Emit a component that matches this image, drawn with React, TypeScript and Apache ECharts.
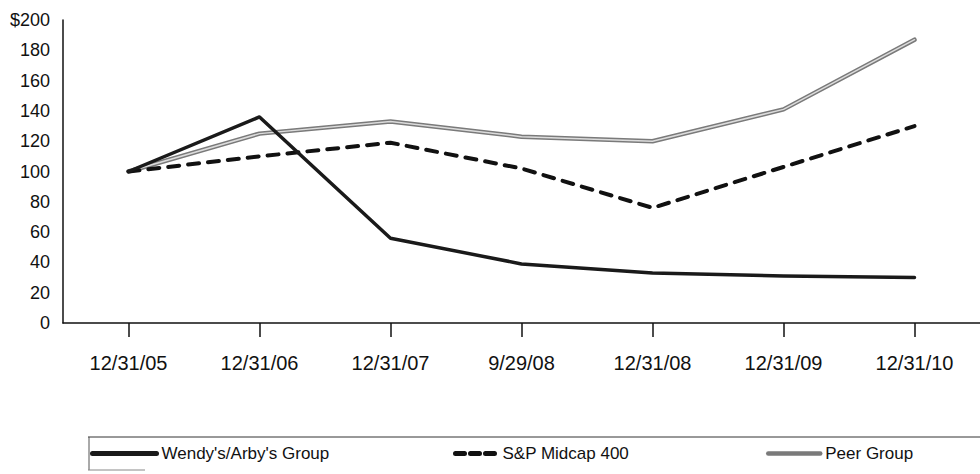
import React, { useEffect, useRef } from "react";
import * as echarts from "echarts";

const categories = ["12/31/05", "12/31/06", "12/31/07", "9/29/08", "12/31/08", "12/31/09", "12/31/10"];
const wendys = [100, 136, 56, 39, 33, 31, 30];
const spMidcap = [100, 110, 119, 102, 76, 103, 130];
const peerGroup = [100, 125, 133, 123, 120, 141, 187];
const seriesNames = ["Wendy's/Arby's Group", "S&P Midcap 400", "Peer Group"];
const yTicks = { min: 0, max: 200, interval: 20 };

const FONT = "'Liberation Sans', Arial, Helvetica, sans-serif";

export default function App() {
  const ref = useRef<HTMLDivElement>(null);
  useEffect(() => {
    if (!ref.current) return;
    const chart = echarts.init(ref.current, undefined, { renderer: "svg" });
    const legendBase = {
      top: 445,
      padding: 0,
      itemHeight: 14,
      itemStyle: { opacity: 0 },
      textStyle: { fontSize: 17, color: "#111", fontFamily: FONT },
    };
    chart.setOption({
      animation: false,
      backgroundColor: "#ffffff",
      textStyle: { fontFamily: FONT, color: "#111" },
      grid: { left: 63, top: 20, width: 922, height: 303, containLabel: false },
      xAxis: {
        type: "category",
        data: categories,
        boundaryGap: true,
        axisLine: { show: true, lineStyle: { color: "#111", width: 1.5 } },
        axisTick: { show: true, alignWithLabel: true, length: 14, lineStyle: { color: "#111", width: 1.5 } },
        axisLabel: { margin: 30, fontSize: 20, color: "#111", fontFamily: FONT },
        splitLine: { show: false },
      },
      yAxis: {
        type: "value",
        min: yTicks.min,
        max: yTicks.max,
        interval: yTicks.interval,
        axisLine: { show: true, lineStyle: { color: "#111", width: 1.5 } },
        axisTick: { show: false },
        splitLine: { show: false },
        axisLabel: {
          margin: 13,
          fontSize: 18,
          color: "#111",
          fontFamily: FONT,
          formatter: (v: number) => (v === yTicks.max ? "$" + v : String(v)),
        },
      },
      legend: [
        { ...legendBase, data: [seriesNames[0]], left: 90, itemWidth: 64, lineStyle: { width: 5 } },
        { ...legendBase, data: [seriesNames[1]], left: 453, itemWidth: 42, lineStyle: { width: 5, type: [9, 6] } },
        { ...legendBase, data: [seriesNames[2]], left: 766, itemWidth: 52, lineStyle: { width: 4.5 } },
      ],
      series: [
        {
          name: seriesNames[2],
          type: "line",
          data: peerGroup,
          symbol: "none",
          lineStyle: { color: "#7a7a7a", width: 4.5, cap: "round", join: "round" },
          itemStyle: { color: "#7a7a7a" },
          z: 2,
        },
        {
          name: "peer-inner",
          type: "line",
          data: peerGroup,
          symbol: "none",
          silent: true,
          lineStyle: { color: "#dcdcdc", width: 1.5, cap: "round", join: "round" },
          itemStyle: { color: "#dcdcdc" },
          z: 3,
        },
        {
          name: seriesNames[1],
          type: "line",
          data: spMidcap,
          symbol: "none",
          lineStyle: { color: "#111", width: 4, type: [11, 9], cap: "round", join: "round" },
          itemStyle: { color: "#111" },
          z: 4,
        },
        {
          name: seriesNames[0],
          type: "line",
          data: wendys,
          symbol: "none",
          lineStyle: { color: "#1a1a1a", width: 3.5, cap: "round", join: "round" },
          itemStyle: { color: "#1a1a1a" },
          z: 5,
        },
      ],
      graphic: [
        { type: "line", shape: { x1: 88, y1: 437, x2: 980, y2: 437 }, style: { stroke: "#333", lineWidth: 1 } },
        { type: "line", shape: { x1: 89, y1: 437, x2: 89, y2: 470 }, style: { stroke: "#555", lineWidth: 1 } },
        { type: "line", shape: { x1: 88, y1: 470, x2: 145, y2: 470 }, style: { stroke: "#888", lineWidth: 1 } },
      ],
    });
    return () => chart.dispose();
  }, []);
  return (
    <div
      ref={ref}
      style={{ position: "absolute", left: 0, top: 0, width: 980, height: 474, background: "#fff" }}
    />
  );
}
